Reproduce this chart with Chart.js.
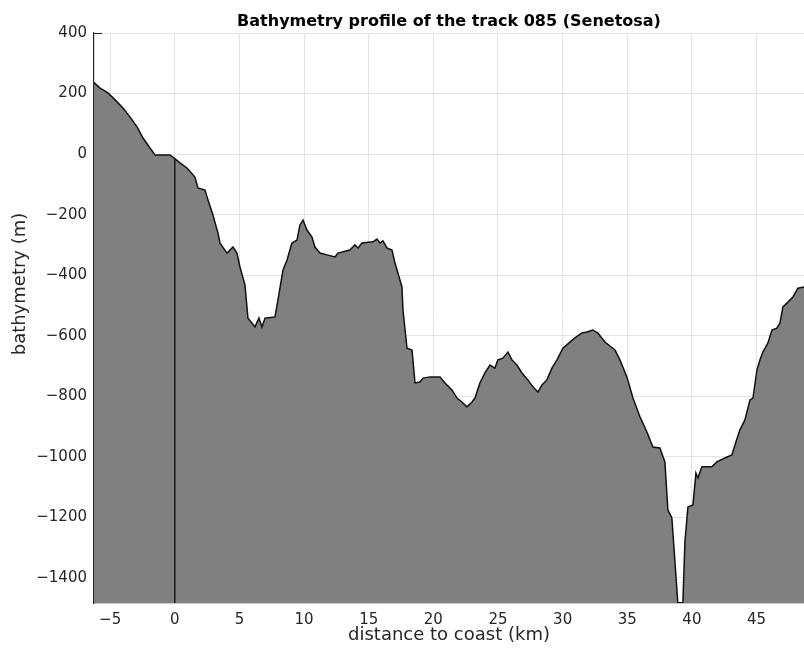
<!DOCTYPE html>
<html>
<head>
<meta charset="utf-8">
<script src="https://cdn.jsdelivr.net/npm/chart.js@4"></script>
<style>
html,body{margin:0;padding:0;background:#fff;}
#wrap{width:804px;height:651px;}
</style>
</head>
<body>
<div id="wrap"><canvas id="c" width="804" height="651"></canvas></div>
<script>
const distKm = [-6.25,-5.78,-5.17,-4.62,-4.01,-3.46,-2.92,-2.46,-1.92,-1.53,-0.37,0.02,0.40,0.94,1.56,1.79,2.34,2.57,2.95,3.34,3.50,4.04,4.50,4.81,5.04,5.43,5.66,6.20,6.51,6.74,6.98,7.75,7.98,8.37,8.68,9.06,9.45,9.68,9.92,10.22,10.61,10.84,11.23,11.77,12.39,12.62,13.54,13.93,14.17,14.48,15.33,15.64,15.87,16.10,16.41,16.80,17.03,17.26,17.57,17.65,17.96,18.35,18.58,18.96,19.20,19.74,20.51,20.90,21.44,21.83,22.21,22.60,22.99,23.22,23.60,23.99,24.38,24.76,24.99,25.38,25.77,26.08,26.46,26.85,27.31,27.70,28.09,28.40,28.78,29.17,29.56,30.02,30.56,30.95,31.49,31.88,32.34,32.73,33.27,34.05,34.43,34.97,35.44,35.98,36.52,36.98,37.52,37.91,38.14,38.45,38.91,39.30,39.46,39.69,40.08,40.31,40.47,40.77,41.54,41.93,42.55,43.09,43.33,43.71,44.10,44.49,44.72,45.03,45.26,45.49,45.88,46.19,46.57,46.81,47.04,47.43,47.81,48.20,48.67];
const depthM = [236,218,202,179,152,122,90,53,20,-3,-3,-16,-29,-46,-76,-112,-119,-152,-201,-261,-294,-327,-307,-327,-373,-433,-542,-571,-542,-571,-542,-538,-482,-383,-350,-294,-284,-234,-218,-251,-274,-307,-327,-333,-340,-327,-317,-300,-310,-294,-290,-281,-294,-287,-310,-317,-360,-393,-439,-515,-641,-647,-756,-753,-740,-736,-736,-756,-779,-806,-819,-835,-819,-806,-756,-723,-697,-707,-680,-674,-654,-680,-697,-723,-746,-769,-786,-763,-746,-707,-680,-641,-621,-607,-591,-588,-581,-591,-621,-647,-680,-736,-806,-868,-918,-968,-971,-1017,-1175,-1202,-1483,-1483,-1281,-1166,-1159,-1054,-1070,-1033,-1033,-1017,-1004,-994,-961,-911,-878,-812,-806,-713,-680,-654,-624,-581,-575,-558,-505,-489,-472,-443,-439];
const coastKm = [0, 0];
const coastM = [-1483, -16];
const xTicks = [-5,0,5,10,15,20,25,30,35,40,45];
const yTicks = [-1400,-1200,-1000,-800,-600,-400,-200,0,200,400];
const xRange = [-6.25, 48.67];
const yRange = [-1483, 400];

const profile = distKm.map((x,i)=>({x:x,y:depthM[i]}));
const coast = coastKm.map((x,i)=>({x:x,y:coastM[i]}));
const FONT = "'DejaVu Sans', sans-serif";
const fmt = v => (v < 0 ? '\u2212' + Math.abs(v) : String(v));

// MATLAB-style inward ticks (drawn under the data) and y label
const extras = {
  id:'extras',
  beforeDatasetsDraw(chart){
    const {ctx, chartArea:a, scales:{x, y}} = chart;
    ctx.save();
    ctx.strokeStyle = '#262626'; ctx.lineWidth = 1;
    yTicks.forEach(v=>{const p = Math.round(y.getPixelForValue(v))+0.5; ctx.beginPath(); ctx.moveTo(a.left, p); ctx.lineTo(a.left+8, p); ctx.stroke();});
    xTicks.forEach(v=>{const p = Math.round(x.getPixelForValue(v))+0.5; ctx.beginPath(); ctx.moveTo(p, a.bottom); ctx.lineTo(p, a.bottom-8); ctx.stroke();});
    ctx.restore();
  },
  afterDraw(chart){
    const ctx = chart.ctx;
    ctx.save();
    ctx.translate(20, 284);
    ctx.rotate(-Math.PI/2);
    ctx.fillStyle = '#262626';
    ctx.font = "18px " + FONT;
    ctx.textAlign = 'center'; ctx.textBaseline = 'middle';
    ctx.fillText('bathymetry (m)', 0, 0);
    ctx.restore();
  }
};

new Chart(document.getElementById('c'), {
  type: 'line',
  data: {
    datasets: [
      {data: coast, borderColor:'#1a1a1a', borderWidth:1.5, pointRadius:0, fill:false, tension:0},
      {data: profile, borderColor:'#111', borderWidth:1.5, backgroundColor:'#808080', pointRadius:0, fill:'start', tension:0}
    ]
  },
  options: {
    responsive:false, animation:false, devicePixelRatio:1,
    layout:{padding:0},
    plugins:{
      legend:{display:false}, tooltip:{enabled:false},
      title:{display:true, text:'Bathymetry profile of the track 085 (Senetosa)', fullSize:false,
        color:'#000', font:{family:FONT, size:16, weight:'bold'}, padding:{top:12,bottom:1.8}}
    },
    scales:{
      x:{type:'linear', min:xRange[0], max:xRange[1],
        afterBuildTicks:s=>{s.ticks = xTicks.map(v=>({value:v}));},
        afterFit:s=>{s.height = 48;},
        grid:{color:'#e3e3e3', lineWidth:1, drawTicks:false},
        border:{display:true, color:'#262626', width:1.2},
        ticks:{color:'#262626', font:{family:FONT, size:15}, padding:8, maxRotation:0, autoSkip:false, callback:v=>fmt(v)},
        title:{display:true, text:'distance to coast (km)', color:'#262626', font:{family:FONT, size:18}, padding:{top:0,bottom:5}}
      },
      y:{type:'linear', min:yRange[0], max:yRange[1],
        afterBuildTicks:s=>{s.ticks = yTicks.map(v=>({value:v}));},
        afterFit:s=>{s.width = 94;},
        grid:{color:'#e3e3e3', lineWidth:1, drawTicks:false},
        border:{display:true, color:'#262626', width:1.2},
        ticks:{color:'#262626', font:{family:FONT, size:15}, padding:7, autoSkip:false, callback:v=>fmt(v)},
        title:{display:false, text:'bathymetry (m)'}
      }
    }
  },
  plugins:[extras]
});
</script>
</body>
</html>
